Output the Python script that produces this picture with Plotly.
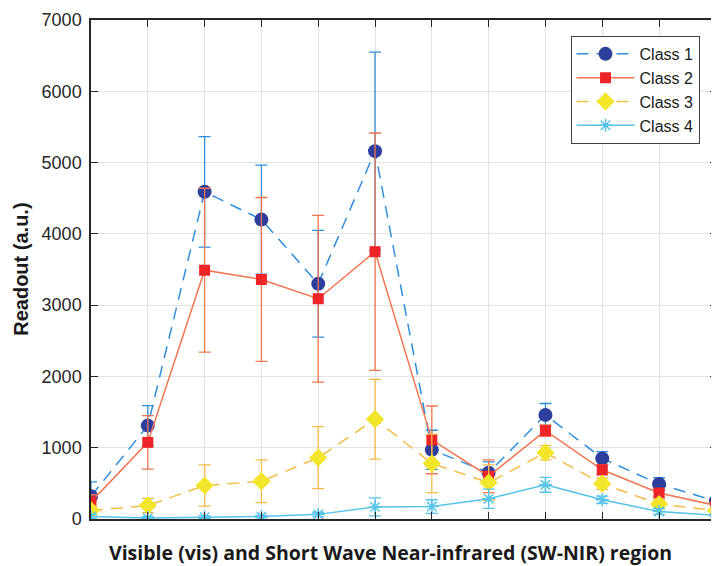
import plotly.graph_objects as go

x_pos = list(range(1, 13))

class1 = [320, 1310, 4590, 4200, 3300, 5160, 970, 650, 1460, 850, 490, 250]
class1_err = [200, 280, 775, 765, 750, 1390, 275, 150, 160, 95, 90, 50]

class2 = [240, 1075, 3490, 3360, 3090, 3750, 1110, 600, 1240, 690, 365, 190]
class2_err = [100, 375, 1150, 1150, 1170, 1665, 475, 230, 80, 70, 60, 40]

class3 = [120, 190, 470, 530, 860, 1400, 780, 510, 930, 495, 210, 120]
class3_err = [60, 100, 290, 300, 435, 560, 410, 250, 100, 80, 60, 40]

class4 = [35, 15, 25, 35, 65, 170, 175, 285, 480, 270, 105, 50]
class4_err = [30, 20, 20, 20, 30, 125, 95, 135, 105, 50, 40, 20]

names = ["Class 1", "Class 2", "Class 3", "Class 4"]
y_ticks = [0, 1000, 2000, 3000, 4000, 5000, 6000, 7000]

series = [
    (class1, class1_err, "#2F8FDC", "#2E3E9D", "circle", 14, "12px,8px"),
    (class2, class2_err, "#F07652", "#EE2528", "square", 11, "solid"),
    (class3, class3_err, "#F4BC45", "#F2E52A", "diamond", 14, "12px,8px"),
    (class4, class4_err, "#56C3E8", "#56C3E8", "asterisk-open", 11, "solid"),
]

fig = go.Figure()
for name, (vals, errs, lc, mc, sym, ms, dash) in zip(names, series):
    marker = dict(symbol=sym, size=ms, color=mc)
    if sym == "asterisk-open":
        marker["line"] = dict(color=mc, width=1.5)
    else:
        marker["line"] = dict(width=0)
    fig.add_trace(go.Scatter(
        x=x_pos, y=vals, name=name, mode="lines+markers",
        line=dict(color=lc, width=1.5, dash=dash),
        marker=marker,
        error_y=dict(type="data", array=errs, visible=True, color=lc,
                     thickness=1.3, width=6),
    ))

font_main = "Liberation Sans, Arial, sans-serif"

fig.update_layout(
    width=711, height=558,
    margin=dict(l=83, r=0, t=12, b=47),
    paper_bgcolor="white", plot_bgcolor="white",
    font=dict(family=font_main, color="#262626"),
    showlegend=True,
    legend=dict(
        x=0.766, y=0.968, xanchor="left", yanchor="top",
        bgcolor="white", bordercolor="#404040", borderwidth=1,
        font=dict(family=font_main, size=16, color="#1a1a1a"),
        tracegroupgap=0, itemwidth=58,
    ),
    xaxis=dict(
        range=[1, 12.02], tickvals=x_pos, showticklabels=False,
        ticks="inside", ticklen=7, tickcolor="#262626", tickwidth=1,
        showline=True, linecolor="#262626", linewidth=1.5, mirror="ticks",
        showgrid=True, gridcolor="#E3E3E3", gridwidth=1, zeroline=False,
    ),
    yaxis=dict(
        range=[0, 7000], tickvals=y_ticks,
        ticks="inside", ticklen=7, tickcolor="#262626", tickwidth=1,
        showline=True, linecolor="#262626", linewidth=1.5, mirror="ticks",
        showgrid=True, gridcolor="#E3E3E3", gridwidth=1, zeroline=False,
        tickfont=dict(family=font_main, size=18, color="#262626"),
        ticklabelstandoff=4,
    ),
    annotations=[
        dict(text="<b>Readout (a.u.)</b>", xref="paper", yref="paper",
             x=-0.113, y=0.5, xanchor="center", yanchor="middle", textangle=-90,
             showarrow=False, font=dict(family=font_main, size=20, color="#1a1a1a")),
        dict(text="<b>Visible (vis) and Short Wave Near-infrared (SW-NIR) region</b>",
             xref="paper", yref="paper", x=0.478, y=-0.068,
             xanchor="center", yanchor="middle", showarrow=False,
             font=dict(family="Open Sans, sans-serif", size=19.5, color="#1a1a1a")),
    ],
)

fig.write_html("out.html")
